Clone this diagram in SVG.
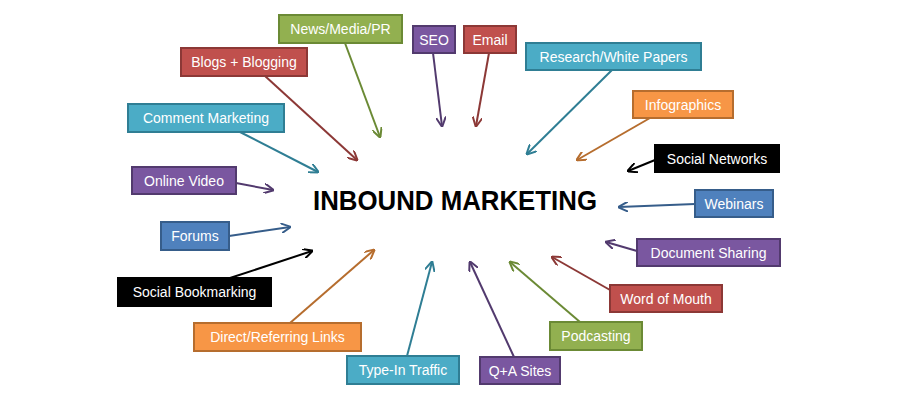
<svg xmlns="http://www.w3.org/2000/svg" width="900" height="400" viewBox="0 0 900 400">
<style>
text{font-family:"Liberation Sans",Arial,sans-serif;font-size:14px;fill:#fff}
.t{fill:#000;font-weight:bold;font-size:28px}
rect{stroke-width:2}
.g{fill:#92b050;stroke:#6b8a35}.p{fill:#7a57a0;stroke:#523a6e}.r{fill:#c0504d;stroke:#8c3836}
.c{fill:#4bacc6;stroke:#2f7e94}.o{fill:#f79646;stroke:#b66d2e}.b{fill:#4f81bd;stroke:#365d8a}.k{fill:#000;stroke:#000}
line{stroke-width:2}
</style>
<defs>
<marker id="a" viewBox="0 0 10 10" refX="9" refY="5" markerWidth="5" markerHeight="5" orient="auto"><path d="M0,0 L10,5 L0,10" fill="none" stroke="context-stroke" stroke-width="2"/></marker>
</defs>
<rect width="900" height="400" fill="#fff" stroke="none"/>
<text class="t" x="455" y="210" text-anchor="middle" textLength="284" lengthAdjust="spacingAndGlyphs">INBOUND MARKETING</text>
<g id="connectors" marker-end="url(#a)">
<line x1="345" y1="43" x2="380" y2="137" stroke="#6b8a35"/>
<line x1="433" y1="53" x2="442" y2="126" stroke="#523a6e"/>
<line x1="489" y1="53" x2="476" y2="126" stroke="#8c3836"/>
<line x1="265" y1="76" x2="357" y2="160" stroke="#8c3836"/>
<line x1="612" y1="70" x2="527" y2="154" stroke="#2f7e94"/>
<line x1="650" y1="118" x2="577" y2="160" stroke="#b66d2e"/>
<line x1="240" y1="132" x2="318" y2="172" stroke="#2f7e94"/>
<line x1="655" y1="160" x2="628" y2="171" stroke="#000"/>
<line x1="236" y1="183" x2="273" y2="190" stroke="#523a6e"/>
<line x1="695" y1="204" x2="619" y2="207" stroke="#365d8a"/>
<line x1="229" y1="236" x2="290" y2="227" stroke="#365d8a"/>
<line x1="637" y1="251" x2="606" y2="242" stroke="#523a6e"/>
<line x1="230" y1="278" x2="312" y2="251" stroke="#000"/>
<line x1="610" y1="290" x2="552" y2="257" stroke="#8c3836"/>
<line x1="290" y1="323" x2="374" y2="250" stroke="#b66d2e"/>
<line x1="580" y1="322" x2="510" y2="262" stroke="#6b8a35"/>
<line x1="407" y1="356" x2="432" y2="262" stroke="#2f7e94"/>
<line x1="514" y1="357" x2="470" y2="262" stroke="#523a6e"/>
</g>
<g id="news"><rect class="g" x="279" y="15" width="123" height="28"/><text x="340.5" y="34" text-anchor="middle">News/Media/PR</text></g>
<g id="seo"><rect class="p" x="413" y="26" width="42" height="27"/><text x="434" y="45" text-anchor="middle">SEO</text></g>
<g id="email"><rect class="r" x="464" y="26" width="52" height="27"/><text x="490" y="45" text-anchor="middle">Email</text></g>
<g id="blogs"><rect class="r" x="181" y="48" width="126" height="28"/><text x="244" y="67" text-anchor="middle">Blogs + Blogging</text></g>
<g id="research"><rect class="c" x="526" y="43" width="175" height="27"/><text x="613.5" y="62" text-anchor="middle">Research/White Papers</text></g>
<g id="infographics"><rect class="o" x="633" y="91" width="100" height="27"/><text x="683" y="110" text-anchor="middle">Infographics</text></g>
<g id="comment"><rect class="c" x="128" y="104" width="156" height="28"/><text x="206" y="123" text-anchor="middle">Comment Marketing</text></g>
<g id="socialnet"><rect class="k" x="655" y="145" width="124" height="27"/><text x="717" y="164" text-anchor="middle">Social Networks</text></g>
<g id="video"><rect class="p" x="132" y="167" width="104" height="27"/><text x="184" y="186" text-anchor="middle">Online Video</text></g>
<g id="webinars"><rect class="b" x="695" y="190" width="78" height="27"/><text x="734" y="209" text-anchor="middle">Webinars</text></g>
<g id="forums"><rect class="b" x="161" y="222" width="68" height="28"/><text x="195" y="241" text-anchor="middle">Forums</text></g>
<g id="docs"><rect class="p" x="637" y="239" width="143" height="27"/><text x="708.5" y="258" text-anchor="middle">Document Sharing</text></g>
<g id="bookmarking"><rect class="k" x="118" y="278" width="153" height="28"/><text x="194.5" y="297" text-anchor="middle">Social Bookmarking</text></g>
<g id="wom"><rect class="r" x="610" y="285" width="112" height="27"/><text x="666" y="304" text-anchor="middle">Word of Mouth</text></g>
<g id="direct"><rect class="o" x="194" y="323" width="167" height="28"/><text x="277.5" y="342" text-anchor="middle">Direct/Referring Links</text></g>
<g id="podcasting"><rect class="g" x="550" y="322" width="92" height="28"/><text x="596" y="341" text-anchor="middle">Podcasting</text></g>
<g id="typein"><rect class="c" x="347" y="356" width="112" height="28"/><text x="403" y="375" text-anchor="middle">Type-In Traffic</text></g>
<g id="qa"><rect class="p" x="480" y="357" width="80" height="27"/><text x="520" y="376" text-anchor="middle">Q+A Sites</text></g>
</svg>
